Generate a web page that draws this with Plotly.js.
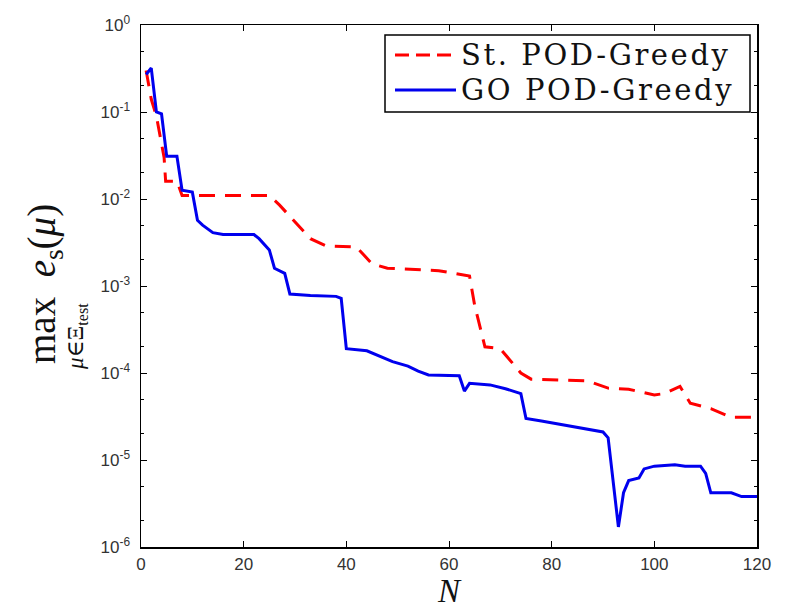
<!DOCTYPE html>
<html>
<head>
<meta charset="utf-8">
<script src="https://cdn.plot.ly/plotly-3.0.1.min.js"></script>
<style>html,body{margin:0;padding:0;background:#fff;}#chart{width:788px;height:613px;}</style>
</head>
<body>
<div id="chart"></div>
<script>
// Standard POD-Greedy
const stN   = [1, 2, 3, 4.5, 4.8, 5, 7, 8, 25, 27, 30, 33, 36, 42, 45, 48, 58, 64, 65, 67, 70, 74, 76, 87, 91, 95, 100, 102, 105, 107, 111, 115, 120];
const stErr = [0.3, 0.14, 0.09, 0.03, 0.016, 0.016, 0.016, 0.011, 0.011, 0.0085, 0.0055, 0.0035, 0.0029, 0.0028, 0.0018, 0.0016, 0.0015, 0.0013, 0.0006, 0.0002, 0.00019, 0.0001, 0.000085, 0.000081, 0.000067, 0.000065, 0.000056, 0.000058, 0.00007, 0.000045, 0.000039, 0.000031, 0.000031];
// GO POD-Greedy
const goN   = [1, 2, 3, 4, 5, 7, 8, 10, 11, 12, 14, 16, 22, 23, 25, 26, 28, 29, 33, 38, 39, 40, 44, 47, 49, 52, 54, 56, 62, 63, 64, 68, 71, 74, 75, 78, 83, 86, 90, 91, 93, 94, 95, 97, 98, 100, 104, 106, 109, 110, 111, 115, 116, 117, 120];
const goErr = [0.27, 0.32, 0.10, 0.095, 0.031, 0.031, 0.0126, 0.012, 0.0057, 0.005, 0.0041, 0.0039, 0.0039, 0.0035, 0.0026, 0.0016, 0.0014, 0.00081, 0.00078, 0.00076, 0.00072, 0.00019, 0.00018, 0.00015, 0.000135, 0.00012, 0.000105, 0.000095, 0.000093, 0.000062, 0.000076, 0.000073, 0.000066, 0.000058, 0.00003, 0.000028, 0.000025, 0.000023, 0.000021, 0.000018, 0.0000017, 0.0000042, 0.0000058, 0.0000062, 0.0000079, 0.0000085, 0.0000088, 0.0000085, 0.0000085, 0.000007, 0.0000042, 0.0000042, 0.000004, 0.0000038, 0.0000038];

const xTicks = [0, 20, 40, 60, 80, 100, 120];
const yTickVals = [1, 0.1, 0.01, 0.001, 0.0001, 0.00001, 0.000001];
const yTickText = ['10<sup>0</sup>', '10<sup>-1</sup>', '10<sup>-2</sup>', '10<sup>-3</sup>', '10<sup>-4</sup>', '10<sup>-5</sup>', '10<sup>-6</sup>'];
const seriesNames = ['St. POD-Greedy', 'GO POD-Greedy'];
const seriesColors = ['#ff0000', '#0000ee'];
const seriesDash = ['16px,10px', 'solid'];

const traces = [
  {x: stN, y: stErr, mode: 'lines', name: seriesNames[0],
   line: {color: seriesColors[0], width: 3, dash: seriesDash[0]}},
  {x: goN, y: goErr, mode: 'lines', name: seriesNames[1],
   line: {color: seriesColors[1], width: 3, dash: seriesDash[1]}}
];

const axisCommon = {
  showline: true, linecolor: '#000', linewidth: 1.5, mirror: 'ticks',
  ticks: 'inside', ticklen: 6, tickcolor: '#000', tickwidth: 1,
  showgrid: false, zeroline: false,
  tickfont: {family: 'Liberation Sans, Arial, sans-serif', size: 17, color: '#333'}
};

// plot-area pixel helpers for decoration placement (legend box, titles)
const L = 141, R = 757, T = 25, B = 547;
const px = v => (v - L) / (R - L);
const py = v => (B - v) / (B - T);

const serif = 'DejaVu Serif, Liberation Serif, serif';
const legendRows = [55, 90];
const shapes = [
  {type: 'rect', xref: 'paper', yref: 'paper', x0: px(385), x1: px(750), y0: py(112), y1: py(35),
   line: {color: '#000', width: 1.5}, fillcolor: '#fff', layer: 'above'}
];
const annotations = [];
seriesNames.forEach((nm, i) => {
  shapes.push({type: 'line', xref: 'paper', yref: 'paper', x0: px(395), x1: px(456),
    y0: py(legendRows[i]), y1: py(legendRows[i]), layer: 'above',
    line: {color: seriesColors[i], width: 3, dash: i === 0 ? '14px,7px' : 'solid'}});
  annotations.push({text: '<span style="letter-spacing:2.6px">' + nm + '</span>',
    xref: 'paper', yref: 'paper', x: px(459), y: py(legendRows[i]),
    xanchor: 'left', yanchor: 'middle', showarrow: false,
    font: {family: serif, size: 29, color: '#111'}});
});
annotations.push(
  {text: 'max  <i>e</i><sub>s</sub>(<i>μ</i>)', xref: 'paper', yref: 'paper',
   x: px(44), y: py(284), xanchor: 'center', yanchor: 'middle', textangle: -90, showarrow: false,
   font: {family: 'Liberation Serif, DejaVu Serif, serif', size: 39, color: '#111'}},
  {text: '<i>μ</i>∈Ξ<sub>test</sub>', xref: 'paper', yref: 'paper',
   x: px(77), y: py(337), xanchor: 'center', yanchor: 'middle', textangle: -90, showarrow: false,
   font: {family: 'Liberation Serif, DejaVu Serif, serif', size: 23, color: '#111'}},
  {text: '<i>N</i>', xref: 'paper', yref: 'paper',
   x: 0.5, y: py(591), xanchor: 'center', yanchor: 'middle', showarrow: false,
   font: {family: 'Liberation Serif, DejaVu Serif, serif', size: 33, color: '#111'}}
);

const layout = {
  width: 788, height: 613,
  margin: {l: L, r: 788 - R, t: T, b: 613 - B},
  paper_bgcolor: '#fff', plot_bgcolor: '#fff',
  showlegend: false,
  xaxis: Object.assign({}, axisCommon, {
    range: [0, 120], tickvals: xTicks, ticktext: xTicks.map(String), ticklabelstandoff: 1
  }),
  yaxis: Object.assign({}, axisCommon, {
    type: 'log', range: [-6, 0], tickvals: yTickVals, ticktext: yTickText, ticklabelstandoff: 6,
    minor: {ticks: 'inside', ticklen: 3, tickcolor: '#000', showgrid: false}
  }),
  shapes: shapes,
  annotations: annotations
};

Plotly.newPlot('chart', traces, layout, {displayModeBar: false, staticPlot: true});
</script>
</body>
</html>
